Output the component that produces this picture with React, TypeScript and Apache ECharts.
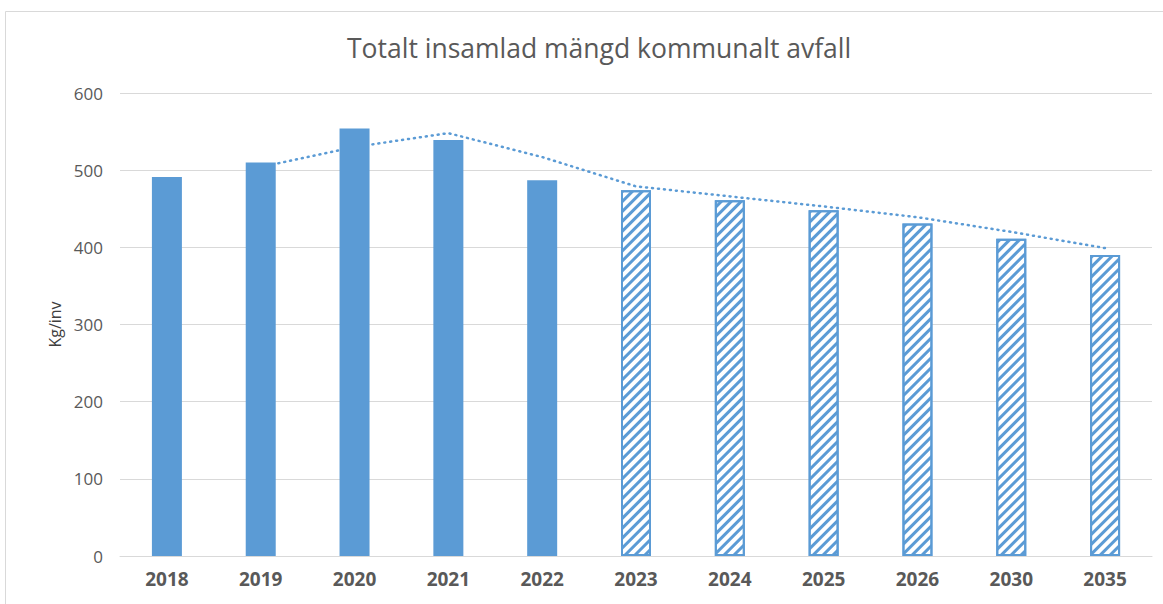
import React, { useEffect, useRef } from "react";
import * as echarts from "echarts";

const categories = ["2018", "2019", "2020", "2021", "2022", "2023", "2024", "2025", "2026", "2030", "2035"];
const actualValues = [491, 510, 554, 539, 487, "-", "-", "-", "-", "-", "-"];
const forecastValues = ["-", "-", "-", "-", "-", 474, 461, 448, 431, 411, 390];
const trendValues = ["-", 504, 530, 548, 517, 479, 466, 453, 439, 420, 399];
const yTicks = { min: 0, max: 600, interval: 100 };

const BLUE = "#5B9BD5";
const GREY_TEXT = "#595959";

export default function App() {
  const ref = useRef<HTMLDivElement>(null);
  useEffect(() => {
    document.body.style.margin = "0";
    const chart = echarts.init(ref.current!, null, { renderer: "svg" });
    chart.setOption({
      animation: false,
      backgroundColor: "#ffffff",
      title: {
        text: "Totalt insamlad mängd kommunalt avfall",
        left: 342,
        top: 29,
        textStyle: { fontFamily: "Open Sans", fontSize: 26.5, fontWeight: "normal", color: GREY_TEXT },
      },
      graphic: [
        {
          type: "rect",
          shape: { x: 5.5, y: 11.5, width: 1200, height: 700 },
          style: { fill: "none", stroke: "#d9d9d9", lineWidth: 1 },
          silent: true,
          z: -10,
        },
      ],
      grid: { left: 120, right: 11, top: 93, bottom: 48 },
      xAxis: {
        type: "category",
        data: categories,
        axisLine: { lineStyle: { color: "#d9d9d9" } },
        axisTick: { show: false },
        axisLabel: { color: GREY_TEXT, fontSize: 19, fontWeight: "bold", fontFamily: "Open Sans", margin: 13 },
      },
      yAxis: {
        type: "value",
        min: yTicks.min,
        max: yTicks.max,
        interval: yTicks.interval,
        name: "Kg/inv",
        nameLocation: "middle",
        nameGap: 57,
        nameRotate: 90,
        nameTextStyle: { color: "#404040", fontSize: 16, fontFamily: "Open Sans" },
        axisLine: { show: false },
        axisTick: { show: false },
        axisLabel: { color: GREY_TEXT, fontSize: 17, fontFamily: "Open Sans", margin: 17 },
        splitLine: { lineStyle: { color: "#d9d9d9" } },
      },
      series: [
        {
          type: "line",
          data: trendValues,
          symbol: "none",
          z: 1,
          lineStyle: { color: BLUE, width: 2.5, type: [1, 5], cap: "round" },
        },
        {
          type: "bar",
          stack: "a",
          data: actualValues,
          barWidth: 30,
          z: 3,
          itemStyle: { color: BLUE },
        },
        {
          type: "bar",
          stack: "a",
          data: forecastValues,
          barWidth: 30,
          z: 3,
          itemStyle: {
            color: "#ffffff",
            borderColor: BLUE,
            borderWidth: 2,
            decal: {
              color: BLUE,
              backgroundColor: "#ffffff",
              symbol: "rect",
              symbolSize: 1,
              dashArrayX: [1, 0],
              dashArrayY: [2.5, 3.5],
              rotation: -Math.PI / 4,
            },
          },
        },
      ],
    });
    return () => chart.dispose();
  }, []);
  return <div ref={ref} style={{ position: "absolute", left: 0, top: 0, width: 1163, height: 604 }} />;
}
